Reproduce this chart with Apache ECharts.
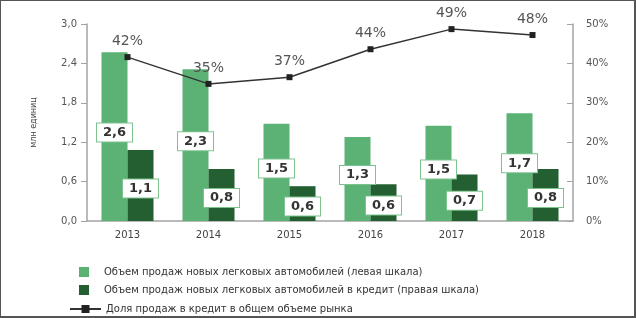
<!DOCTYPE html>
<html>
<head>
<meta charset="utf-8">
<script src="https://cdn.jsdelivr.net/npm/echarts@6/dist/echarts.min.js"></script>
<style>
  html, body { margin: 0; padding: 0; background: #fff; }
  .frame {
    width: 636px; height: 318px; box-sizing: border-box;
    border: 1px solid #555; border-width: 1px 2px 2px 1px;
    position: relative;
  }
  #chart { position: absolute; left: -1px; top: -1px; width: 636px; height: 318px; }
</style>
</head>
<body>
<div class="frame"><div id="chart"></div></div>
<script>
var years = ['2013', '2014', '2015', '2016', '2017', '2018'];
var salesNew = [2.57, 2.31, 1.48, 1.28, 1.45, 1.64];
var salesNewLabels = ['2,6', '2,3', '1,5', '1,3', '1,5', '1,7'];
var salesCredit = [1.08, 0.79, 0.53, 0.56, 0.71, 0.79];
var salesCreditLabels = ['1,1', '0,8', '0,6', '0,6', '0,7', '0,8'];
var creditShare = [41.6, 34.8, 36.5, 43.6, 48.7, 47.2];
var creditShareLabels = ['42%', '35%', '37%', '44%', '49%', '48%'];

var name1 = 'Объем продаж новых легковых автомобилей (левая шкала)';
var name2 = 'Объем продаж новых легковых автомобилей в кредит (правая шкала)';
var name3 = 'Доля продаж в кредит в общем объеме рынка';

var font = 'DejaVu Sans';
var lightGreen = '#5bb274';
var darkGreen = '#235f30';
var axisGray = '#a3a3a3';

var chart = echarts.init(document.getElementById('chart'));

var boxLabel = function (labels, offsetY) {
  return {
    show: true,
    position: 'inside',
    offset: [0, offsetY],
    formatter: function (p) { return labels[p.dataIndex]; },
    backgroundColor: '#fff',
    borderColor: '#7cc28e',
    borderWidth: 1,
    padding: [3, 6, 2, 6],
    color: '#333',
    fontFamily: font,
    fontWeight: 'bold',
    fontSize: 13
  };
};

var option = {
  animation: false,
  textStyle: { fontFamily: font },
  legend: [
    {
      data: [name1], left: 74, top: 262, itemWidth: 10, itemHeight: 10, icon: 'rect', itemGap: 0,
      textStyle: { fontSize: 10, color: '#333', fontFamily: font, padding: [0, 0, 0, 10] }
    },
    {
      data: [name2], left: 74, top: 280, itemWidth: 10, itemHeight: 10, icon: 'rect', itemGap: 0,
      textStyle: { fontSize: 10, color: '#333', fontFamily: font, padding: [0, 0, 0, 10] }
    },
    {
      data: [name3], left: 64, top: 299, itemWidth: 31, itemHeight: 10,
      textStyle: { fontSize: 10, color: '#333', fontFamily: font }
    }
  ],
  grid: { left: 87, right: 63, top: 24, bottom: 97 },
  xAxis: {
    type: 'category',
    data: years,
    axisLine: { lineStyle: { color: axisGray, width: 1.5 } },
    axisTick: { show: false },
    axisLabel: { color: '#444', fontSize: 10, margin: 9 }
  },
  yAxis: [
    {
      type: 'value', min: 0, max: 3, interval: 0.6,
      name: 'млн единиц', nameLocation: 'middle', nameGap: 49, nameRotate: 90,
      nameTextStyle: { fontSize: 8, color: '#444' },
      axisLine: { show: true, lineStyle: { color: axisGray, width: 1.5 } },
      axisTick: { show: true, length: 6, lineStyle: { color: axisGray } },
      splitLine: { show: false },
      axisLabel: {
        color: '#555', fontSize: 10, margin: 10,
        formatter: function (v) { return v.toFixed(1).replace('.', ','); }
      }
    },
    {
      type: 'value', min: 0, max: 50, interval: 10,
      axisLine: { show: true, lineStyle: { color: axisGray, width: 1.5 } },
      axisTick: { show: true, inside: true, length: 6, lineStyle: { color: axisGray } },
      splitLine: { show: false },
      axisLabel: { color: '#555', fontSize: 10, margin: 13, formatter: '{value}%' }
    }
  ],
  series: [
    {
      name: name1, type: 'bar', data: salesNew, yAxisIndex: 0,
      barWidth: 26, barGap: '0%',
      itemStyle: { color: lightGreen },
      label: boxLabel(salesNewLabels, -4)
    },
    {
      name: name2, type: 'bar', data: salesCredit, yAxisIndex: 0,
      barWidth: 26,
      itemStyle: { color: darkGreen },
      label: boxLabel(salesCreditLabels, 3)
    },
    {
      name: name3, type: 'line', data: creditShare, yAxisIndex: 1,
      symbol: 'rect', symbolSize: 6,
      lineStyle: { color: '#333', width: 1.5 },
      itemStyle: { color: '#222' },
      label: {
        show: true, position: 'top', distance: 6,
        formatter: function (p) { return creditShareLabels[p.dataIndex]; },
        color: '#555', fontSize: 14, fontFamily: font
      },
      z: 5
    }
  ]
};

chart.setOption(option);
</script>
</body>
</html>
